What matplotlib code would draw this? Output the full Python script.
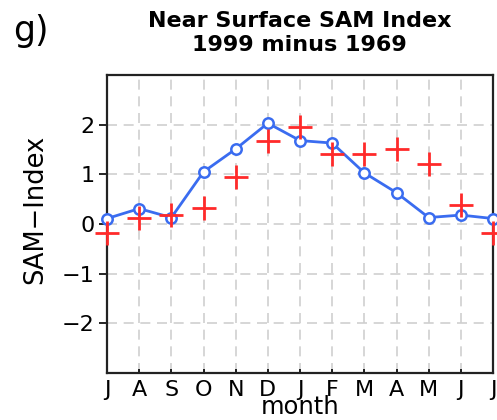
import matplotlib
matplotlib.use("Agg")
import matplotlib.pyplot as plt
import numpy as np

# month labels, July to July
months = ['J', 'A', 'S', 'O', 'N', 'D', 'J', 'F', 'M', 'A', 'M', 'J', 'J']

# blue line with open circles
sam_line = [0.11, 0.31, 0.13, 1.05, 1.51, 2.03, 1.68, 1.63, 1.03, 0.63, 0.13, 0.18, 0.11]
# red crosses
sam_cross = [-0.19, 0.13, 0.18, 0.33, 0.95, 1.68, 1.96, 1.40, 1.40, 1.51, 1.21, 0.38, -0.19]

x = np.arange(len(months))

fig = plt.figure(figsize=(4.97, 4.2), dpi=100)
ax = fig.add_axes([0.2153, 0.1119, 0.7767, 0.7095])

ax.plot(x, sam_line, color='#3a6cf0', lw=2, marker='o', ms=7.5,
        mfc='white', mec='#3a6cf0', mew=1.8, zorder=3, clip_on=False)
ax.plot(x, sam_cross, ls='none', marker='+', ms=17, mew=2,
        color='#ff2a2a', zorder=4, clip_on=False)

ax.set_xlim(0, 12)
ax.set_ylim(-3, 3)
ax.set_xticks(x)
ax.set_xticklabels(months)
ax.set_yticks([-2, -1, 0, 1, 2])
ax.set_yticklabels(['\u22122', '\u22121', '0', '1', '2'])

ax.grid(True, color='#cfcfcf', ls=(0, (6, 4)), lw=1.2, zorder=0)
for s in ax.spines.values():
    s.set_linewidth(1.6)
    s.set_color('#222222')

ax.tick_params(axis='y', direction='out', length=6, width=1.2, labelsize=16, pad=3)
ax.tick_params(axis='x', direction='in', length=3, width=1.2, labelsize=16, pad=5)

ax.set_ylabel('SAM\u2212Index', fontsize=18.5)
ax.yaxis.set_label_coords(-0.152, 0.548)
ax.set_xlabel('month', fontsize=17.5, labelpad=-3.5)

fig.text(0.603, 0.95, 'Near Surface SAM Index', ha='center', va='center',
         fontsize=16, fontweight='bold')
fig.text(0.603, 0.893, '1999 minus 1969', ha='center', va='center',
         fontsize=16, fontweight='bold')
fig.text(0.026, 0.925, 'g)', ha='left', va='center', fontsize=25)

fig.savefig('out.png', dpi=100)
